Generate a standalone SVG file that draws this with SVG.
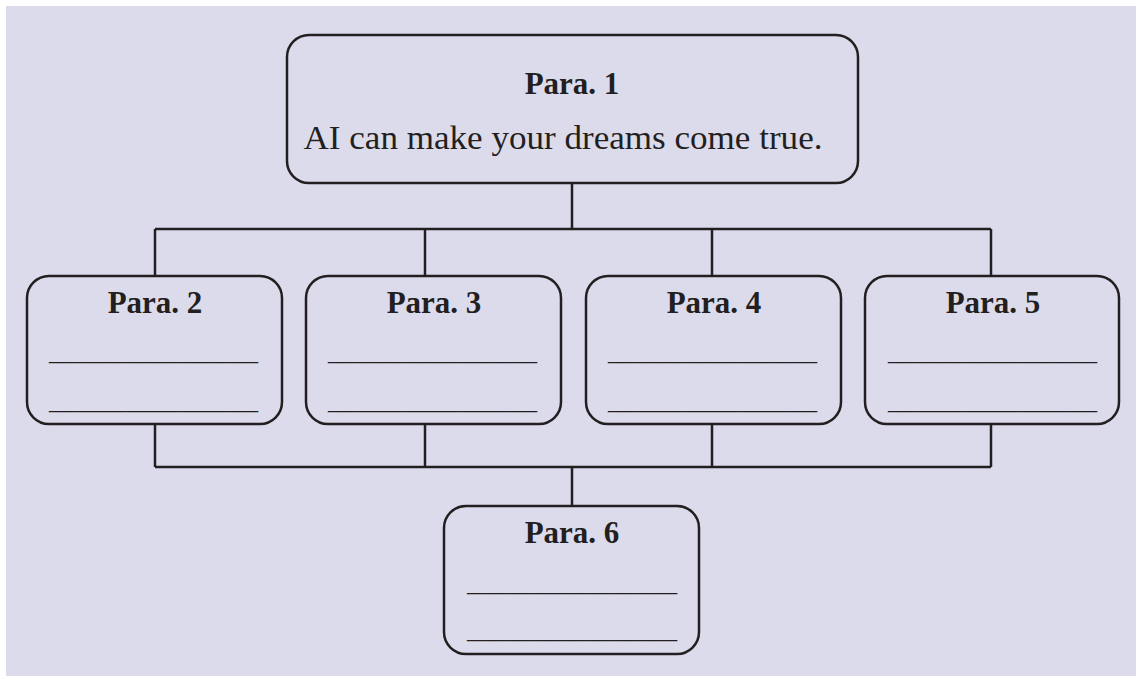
<svg xmlns="http://www.w3.org/2000/svg" width="1136" height="676" viewBox="0 0 1136 676">
  <style>
    .box { fill: none; stroke: #231f20; stroke-width: 2.5; }
    .wire { fill: none; stroke: #231f20; stroke-width: 2.5; stroke-linecap: butt; }
    .title { font-family: "Liberation Serif", serif; font-weight: bold; font-size: 31px; fill: #231f20; text-anchor: middle; }
    .body { font-family: "Liberation Serif", serif; font-size: 33px; fill: #231f20; text-anchor: middle; }
    .blank { font-family: "Liberation Serif", serif; font-size: 28px; fill: #231f20; }
  </style>

  <rect x="0" y="0" width="1136" height="676" fill="#ffffff"/>
  <rect x="6" y="6" width="1130" height="670" fill="#dcdbec"/>

  <!-- connectors -->
  <g id="connectors">
    <path class="wire" d="M572 183 V229 M155 229 H991 M155 229 V276 M425 229 V276 M712 229 V276 M991 229 V276"/>
    <path class="wire" d="M155 424 V467 M425 424 V467 M712 424 V467 M991 424 V467 M155 467 H991 M572 467 V506"/>
  </g>

  <g id="para1">
    <rect class="box" x="287" y="35" width="571" height="148" rx="22"/>
    <text class="title" x="572" y="94">Para. 1</text>
    <text class="body" x="563" y="149" textLength="519" lengthAdjust="spacingAndGlyphs">AI can make your dreams come true.</text>
  </g>

  <g id="para2">
    <rect class="box" x="27" y="276" width="255" height="148" rx="22"/>
    <text class="title" x="155" y="313">Para. 2</text>
    <text class="blank" x="49" y="360" textLength="209" lengthAdjust="spacingAndGlyphs">________________</text>
    <text class="blank" x="49" y="409" textLength="209" lengthAdjust="spacingAndGlyphs">________________</text>
  </g>

  <g id="para3">
    <rect class="box" x="306" y="276" width="255" height="148" rx="22"/>
    <text class="title" x="434" y="313">Para. 3</text>
    <text class="blank" x="328" y="360" textLength="209" lengthAdjust="spacingAndGlyphs">________________</text>
    <text class="blank" x="328" y="409" textLength="209" lengthAdjust="spacingAndGlyphs">________________</text>
  </g>

  <g id="para4">
    <rect class="box" x="586" y="276" width="255" height="148" rx="22"/>
    <text class="title" x="714" y="313">Para. 4</text>
    <text class="blank" x="608" y="360" textLength="209" lengthAdjust="spacingAndGlyphs">________________</text>
    <text class="blank" x="608" y="409" textLength="209" lengthAdjust="spacingAndGlyphs">________________</text>
  </g>

  <g id="para5">
    <rect class="box" x="865" y="276" width="254" height="148" rx="22"/>
    <text class="title" x="993" y="313">Para. 5</text>
    <text class="blank" x="888" y="360" textLength="209" lengthAdjust="spacingAndGlyphs">________________</text>
    <text class="blank" x="888" y="409" textLength="209" lengthAdjust="spacingAndGlyphs">________________</text>
  </g>

  <g id="para6">
    <rect class="box" x="444" y="506" width="255" height="148" rx="22"/>
    <text class="title" x="572" y="543">Para. 6</text>
    <text class="blank" x="467" y="591" textLength="210" lengthAdjust="spacingAndGlyphs">________________</text>
    <text class="blank" x="467" y="638" textLength="210" lengthAdjust="spacingAndGlyphs">________________</text>
  </g>
</svg>
